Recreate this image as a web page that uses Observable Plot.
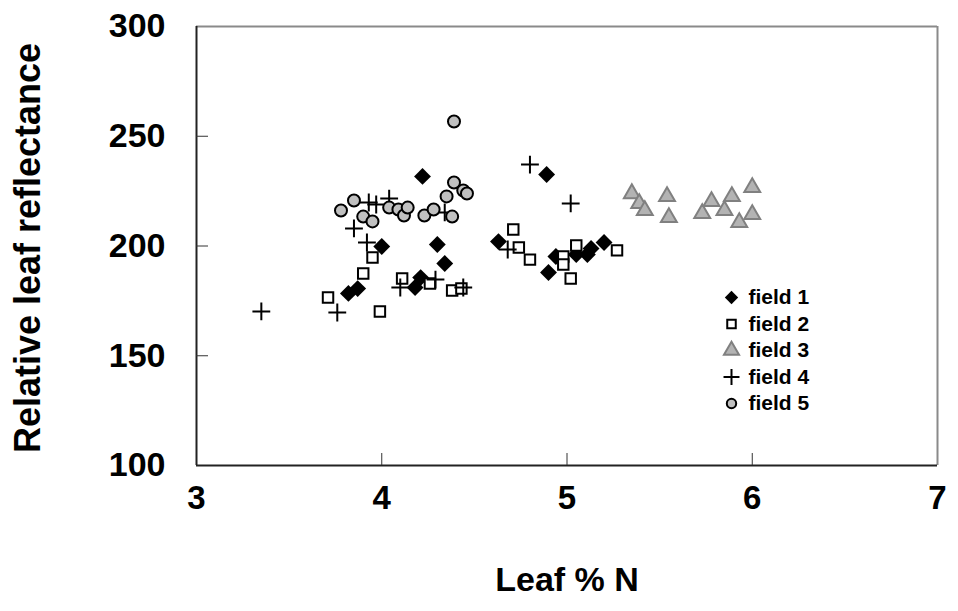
<!DOCTYPE html>
<html>
<head>
<meta charset="utf-8">
<script src="https://cdn.jsdelivr.net/npm/d3@7"></script>
<script src="https://cdn.jsdelivr.net/npm/@observablehq/plot@0.6"></script>
<style>
  html, body { margin: 0; padding: 0; background: #fff; }
  #chart { width: 958px; height: 611px; }
</style>
</head>
<body>
<div id="chart"></div>
<script>
// ---- data (Leaf % N, Relative leaf reflectance) ----
const field1 = [[3.82,178.4],[3.87,180.6],[4.00,199.8],[4.18,181.1],[4.21,185.6],[4.22,231.7],[4.30,200.7],[4.34,192.0],
                [4.63,202.0],[4.89,232.6],[4.90,187.9],[4.94,195.2],[5.05,196.1],[5.11,196.1],[5.13,198.9],[5.20,201.6]];
const field2 = [[3.71,176.5],[3.90,187.5],[3.95,194.8],[3.99,170.2],[4.11,185.2],[4.26,182.9],[4.38,179.7],[4.43,180.6],
                [4.71,207.5],[4.74,199.3],[4.80,193.8],[4.98,195.2],[4.98,191.6],[5.02,185.2],[5.05,200.2],[5.27,198.0]];
const field3 = [[5.35,223.9],[5.39,219.4],[5.42,216.2],[5.54,222.6],[5.55,213.0],[5.73,214.8],[5.78,220.3],[5.85,216.2],
                [5.89,222.6],[5.93,210.7],[6.00,226.7],[6.00,214.4]];
const field4 = [[3.35,170.2],[3.76,169.7],[3.85,208.0],[3.92,201.6],[3.93,219.8],[3.97,218.9],[4.04,221.6],[4.10,181.1],
                [4.29,184.7],[4.34,215.3],[4.44,181.1],[4.68,198.4],[4.80,237.1],[5.02,219.4]];
const field5 = [[3.78,216.2],[3.85,220.7],[3.90,213.4],[3.95,211.2],[4.04,217.5],[4.09,216.6],[4.12,213.9],[4.14,217.5],
                [4.23,213.9],[4.28,216.6],[4.35,222.6],[4.38,213.4],[4.39,228.9],[4.44,225.3],[4.46,223.9],[4.39,256.7]];
const seriesNames = ["field 1", "field 2", "field 3", "field 4", "field 5"];
const xTicks = [3, 4, 5, 6, 7];
const yTicks = [100, 150, 200, 250, 300];
const xTitle = "Leaf % N";
const yTitle = "Relative leaf reflectance";

// ---- layout ----
const W = 958, H = 611;
const mL = 196, mR = 21, mT = 26, mB = 146;
const plotW = W - mL - mR, plotH = H - mT - mB;
const font = "'Liberation Sans', Arial, Helvetica, sans-serif";

const styles = [
  {symbol: "diamond2", r: 7.6, fill: "black", stroke: "none", strokeWidth: 0},
  {symbol: "square", r: 5.9, fill: "white", stroke: "black", strokeWidth: 2},
  {symbol: "triangle", r: 5.9, fill: "#b3b3b3", stroke: "#808080", strokeWidth: 2},
  {symbol: "plus", r: 5.8, fill: "none", stroke: "black", strokeWidth: 2},
  {symbol: "circle", r: 6.0, fill: "#c0c0c0", stroke: "black", strokeWidth: 2}
];
const legendR = [6.0, 4.8, 5.6, 5.2, 4.7];
const allFields = [field1, field2, field3, field4, field5];

const marks = [];
// axis frame
marks.push(Plot.ruleX([xTicks[xTicks.length-1]], {stroke: "#8a8a8a", strokeWidth: 2}));
marks.push(Plot.ruleY([yTicks[yTicks.length-1]], {stroke: "#8a8a8a", strokeWidth: 2}));
marks.push(Plot.ruleX([xTicks[0]], {stroke: "#222", strokeWidth: 2}));
marks.push(Plot.ruleY([yTicks[0]], {stroke: "#222", strokeWidth: 2}));
// inward ticks
marks.push(Plot.tickY(yTicks.slice(1, -1), {y: d => d, insetRight: plotW - 12, stroke: "#333", strokeWidth: 1}));
marks.push(Plot.tickX(xTicks.slice(1, -1), {x: d => d, insetTop: plotH - 12, stroke: "#333", strokeWidth: 1}));
// tick labels
marks.push(Plot.axisX({ticks: xTicks, tickSize: 0, tickPadding: 20, fontSize: 33, fontWeight: "bold", fontFamily: font, label: null, tickFormat: d => String(d)}));
marks.push(Plot.axisY({ticks: yTicks, tickSize: 0, tickPadding: 31, fontSize: 34, fontWeight: "bold", fontFamily: font, label: null, tickFormat: d => String(d)}));
// axis titles
marks.push(Plot.text([yTitle], {frameAnchor: "left", dx: 28 - mL, dy: 2, rotate: -90, text: d => d, textAnchor: "middle", lineAnchor: "middle", fontSize: 36, fontWeight: "bold", fontFamily: font, fill: "black"}));
marks.push(Plot.text([xTitle], {frameAnchor: "bottom", dy: 115, text: d => d, textAnchor: "middle", lineAnchor: "middle", fontSize: 34, fontWeight: "bold", fontFamily: font, fill: "black"}));
// data
allFields.forEach((f, i) => {
  const s = styles[i];
  marks.push(Plot.dot(f, {x: d => d[0], y: d => d[1], symbol: s.symbol, r: s.r, fill: s.fill, stroke: s.stroke, strokeWidth: s.strokeWidth}));
});
// legend
seriesNames.forEach((name, i) => {
  const s = styles[i];
  const dy = 297 - mT + i * 26.5;
  marks.push(Plot.dot([name], {frameAnchor: "top-left", dx: 731 - mL, dy, symbol: s.symbol, r: legendR[i], fill: s.fill, stroke: s.stroke, strokeWidth: s.strokeWidth}));
  marks.push(Plot.text([name], {frameAnchor: "top-left", dx: 748 - mL, dy, text: d => d, textAnchor: "start", lineAnchor: "middle", fontSize: 21, fontWeight: "bold", fontFamily: font, fill: "black"}));
});

const chart = Plot.plot({
  width: W, height: H,
  marginLeft: mL, marginRight: mR, marginTop: mT, marginBottom: mB,
  x: {domain: [xTicks[0], xTicks[xTicks.length-1]]},
  y: {domain: [yTicks[0], yTicks[yTicks.length-1]]},
  style: {fontFamily: font, background: "white", color: "black", overflow: "visible"},
  marks
});
document.getElementById("chart").appendChild(chart);
</script>
</body>
</html>
